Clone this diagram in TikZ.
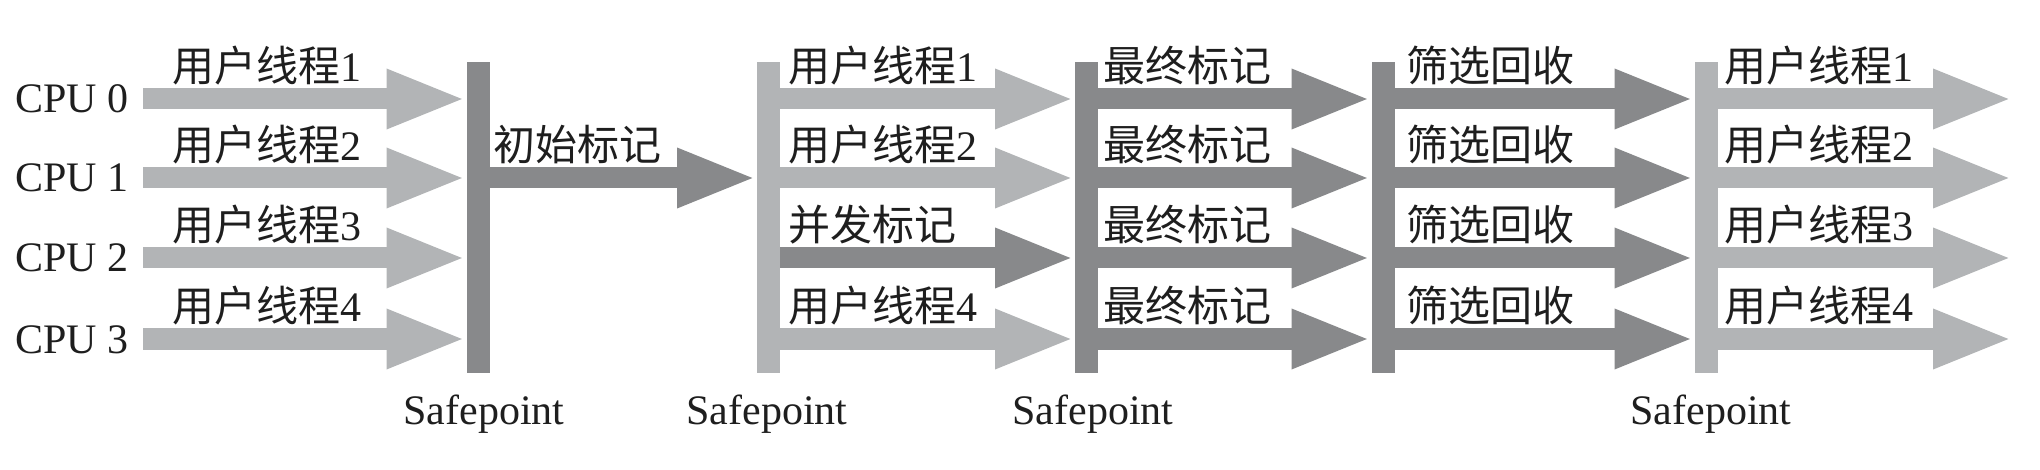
\documentclass[tikz,border=0pt]{standalone}
\usepackage{fontspec}
\setmainfont{Liberation Serif}
\newfontfamily\cjk{Noto Sans CJK SC}
\usetikzlibrary{arrows.meta}
\definecolor{lightg}{RGB}{178,180,182}
\definecolor{darkg}{RGB}{136,137,139}
\definecolor{ink}{RGB}{30,30,30}
\tikzset{
  barL/.style={fill=lightg, draw=none, minimum width=23pt, minimum height=311pt, inner sep=0pt, outer sep=0pt},
  barD/.style={fill=darkg, draw=none, minimum width=23pt, minimum height=311pt, inner sep=0pt, outer sep=0pt},
  arrL/.style={draw=lightg, line width=21pt, -{Triangle[length=80pt,width=54pt]}},
  arrD/.style={draw=darkg, line width=21pt, -{Triangle[length=80pt,width=54pt]}},
  txt/.style={inner sep=0pt, text=ink, font=\fontsize{42}{42}\selectfont},
  lbl/.style={txt, anchor=base west},
  cpulbl/.style={txt, anchor=base east},
  splbl/.style={txt, anchor=base},
}
\begin{document}
\begin{tikzpicture}[x=1pt,y=-1pt]
\useasboundingbox (0,0) rectangle (2040,470);
% row centre lines
\coordinate (r0) at (0,99);
\coordinate (r1) at (0,178);
\coordinate (r2) at (0,258);
\coordinate (r3) at (0,339);
\coordinate (s0) at (143,0);
\coordinate (e0) at (2013,0);
% safepoint bars
\node[barD] (b1) at (478,217.5) {};
\node[barL] (b2) at (768.5,217.5) {};
\node[barD] (b3) at (1086.5,217.5) {};
\node[barD] (b4) at (1383,217.5) {};
\node[barL] (b5) at (1706,217.5) {};
% CPU labels
\node[cpulbl] (c0) at (129,113) {CPU 0};
\node[cpulbl] (c1) at (129,192) {CPU 1};
\node[cpulbl] (c2) at (129,272) {CPU 2};
\node[cpulbl] (c3) at (129,353) {CPU 3};
% group A: user threads
\draw[arrL] (s0 |- r0) -- (b1.west |- r0);
\draw[arrL] (s0 |- r1) -- (b1.west |- r1);
\draw[arrL] (s0 |- r2) -- (b1.west |- r2);
\draw[arrL] (s0 |- r3) -- (b1.west |- r3);
\node[lbl] (a0) at (172,82) {{\cjk 用户线程}1};
\node[lbl] (a1) at (172,161) {{\cjk 用户线程}2};
\node[lbl] (a2) at (172,241) {{\cjk 用户线程}3};
\node[lbl] (a3) at (172,322) {{\cjk 用户线程}4};
% initial mark
\draw[arrD] (b1.east |- r1) -- (b2.west |- r1);
\node[lbl] (im) at (493,161) {\cjk 初始标记};
% group B: concurrent mark
\draw[arrL] (b2.east |- r0) -- (b3.west |- r0);
\draw[arrL] (b2.east |- r1) -- (b3.west |- r1);
\draw[arrD] (b2.east |- r2) -- (b3.west |- r2);
\draw[arrL] (b2.east |- r3) -- (b3.west |- r3);
\node[lbl] (m0) at (788,82) {{\cjk 用户线程}1};
\node[lbl] (m1) at (788,161) {{\cjk 用户线程}2};
\node[lbl] (m2) at (788,241) {\cjk 并发标记};
\node[lbl] (m3) at (788,322) {{\cjk 用户线程}4};
% group C: final mark
\draw[arrD] (b3.east |- r0) -- (b4.west |- r0);
\draw[arrD] (b3.east |- r1) -- (b4.west |- r1);
\draw[arrD] (b3.east |- r2) -- (b4.west |- r2);
\draw[arrD] (b3.east |- r3) -- (b4.west |- r3);
\node[lbl] (f0) at (1103,82) {\cjk 最终标记};
\node[lbl] (f1) at (1103,161) {\cjk 最终标记};
\node[lbl] (f2) at (1103,241) {\cjk 最终标记};
\node[lbl] (f3) at (1103,322) {\cjk 最终标记};
% group D: cleanup
\draw[arrD] (b4.east |- r0) -- (b5.west |- r0);
\draw[arrD] (b4.east |- r1) -- (b5.west |- r1);
\draw[arrD] (b4.east |- r2) -- (b5.west |- r2);
\draw[arrD] (b4.east |- r3) -- (b5.west |- r3);
\node[lbl] (g0) at (1406,82) {\cjk 筛选回收};
\node[lbl] (g1) at (1406,161) {\cjk 筛选回收};
\node[lbl] (g2) at (1406,241) {\cjk 筛选回收};
\node[lbl] (g3) at (1406,322) {\cjk 筛选回收};
% group E: user threads
\draw[arrL] (b5.east |- r0) -- (e0 |- r0);
\draw[arrL] (b5.east |- r1) -- (e0 |- r1);
\draw[arrL] (b5.east |- r2) -- (e0 |- r2);
\draw[arrL] (b5.east |- r3) -- (e0 |- r3);
\node[lbl] (u0) at (1724,82) {{\cjk 用户线程}1};
\node[lbl] (u1) at (1724,161) {{\cjk 用户线程}2};
\node[lbl] (u2) at (1724,241) {{\cjk 用户线程}3};
\node[lbl] (u3) at (1724,322) {{\cjk 用户线程}4};
% safepoint labels
\node[splbl] (p1) at (484,424) {Safepoint};
\node[splbl] (p2) at (767,424) {Safepoint};
\node[splbl] (p3) at (1093,424) {Safepoint};
\node[splbl] (p5) at (1711,424) {Safepoint};
\end{tikzpicture}
\end{document}
